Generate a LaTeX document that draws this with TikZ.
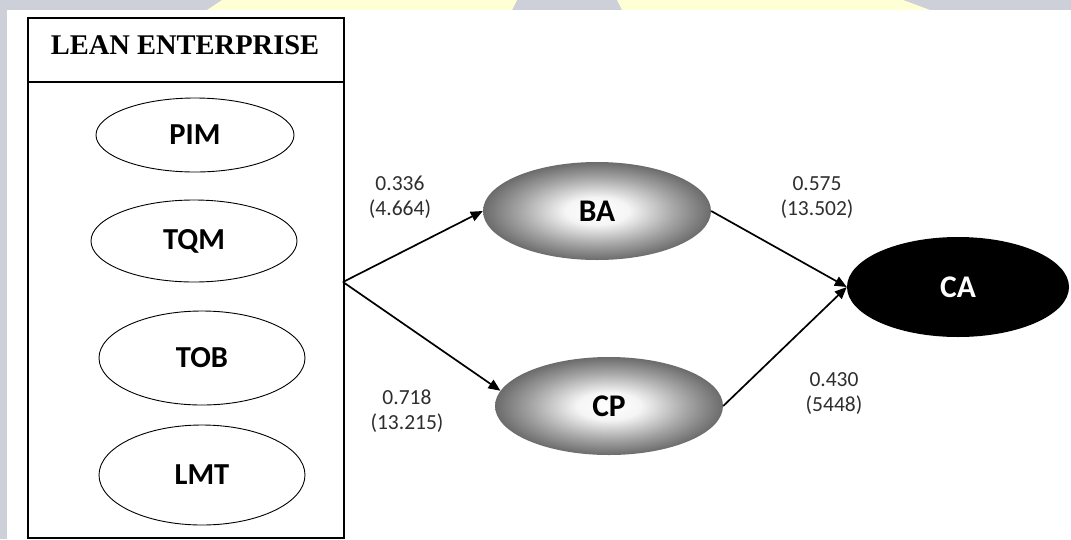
\documentclass[tikz,border=0pt]{standalone}
\usepackage{fontspec}
\setmainfont{Carlito}
\newfontfamily\titlefont{Liberation Serif}
\usetikzlibrary{shapes.geometric,arrows.meta}

\definecolor{pagegray}{HTML}{CDD0D8}
\definecolor{markyellow}{HTML}{FFFFD6}
\definecolor{numgray}{HTML}{2E2E2E}

% soft grey ball: wide light centre, darker rim
\pgfdeclareradialshading{softball}{\pgfpoint{0bp}{0bp}}{%
  color(0bp)=(white); color(7bp)=(white!96!black); color(17bp)=(black!35);
  color(25bp)=(black!58); color(50bp)=(black!58)}

\begin{document}
\begin{tikzpicture}[x=1pt,y=-1pt,
  frame/.style={draw=black,line width=2pt,inner sep=0pt,anchor=north west},
  construct/.style={ellipse,draw=black,line width=0.9pt,fill=white,inner sep=0pt,
    font=\fontsize{30.5}{30.5}\selectfont\bfseries},
  latent/.style={ellipse,inner sep=0pt,minimum width=228pt,minimum height=98pt,
    shading=softball,font=\fontsize{31.5}{31.5}\selectfont\bfseries},
  outcome/.style={ellipse,inner sep=0pt,fill=black,text=white,
    font=\fontsize{31.5}{31.5}\selectfont\bfseries},
  coef/.style={align=center,text=numgray,font=\fontsize{21.5}{25}\selectfont},
  link/.style={line width=1.7pt,-{Triangle[length=12pt,width=10pt]}}
]
% page background with the grey margin and pale watermark strip
\fill[white] (0,0) rectangle (1071,539);
\fill[pagegray] (0,0) rectangle (1071,10);
\fill[pagegray] (0,0) rectangle (7,539);
\fill[markyellow] (207,10) -- (222,0) -- (517,0) -- (512,10) -- cycle;
\fill[markyellow] (622,10) -- (617,0) -- (903,0) -- (930,10) -- cycle;
\useasboundingbox (0,0) rectangle (1071,539);

% lean enterprise block
\node[frame,minimum width=316pt,minimum height=64pt] (titlebox) at (27,17) {};
\node[font=\titlefont\fontsize{28.5}{28.5}\selectfont\bfseries] (title) at (185,45) {LEAN ENTERPRISE};
\node[frame,minimum width=316pt,minimum height=456pt] (lean) at (27,81) {};

\node[construct,minimum width=198pt,minimum height=74pt] (pim) at (195,135) {PIM};
\node[construct,minimum width=206pt,minimum height=82pt] (tqm) at (194,241) {TQM};
\node[construct,minimum width=206pt,minimum height=94pt] (tob) at (202,358) {TOB};
\node[construct,minimum width=206pt,minimum height=100pt] (lmt) at (202,475) {LMT};

% mediators and outcome
\node[latent] (ba) at (597,211) {BA};
\node[latent] (cp) at (609,406) {CP};
\node[outcome,minimum width=222pt,minimum height=100pt] (ca) at (958,287) {CA};

\coordinate (src) at (343,282);

\draw[link] (src) -- (ba.west);
\draw[link] (src) -- (cp.172);
\draw[link] (ba.east) -- (ca.west);
\draw[link] (cp.east) -- (ca.west);

% path coefficients (t-values)
\node[coef] (c1) at (400,197) {0.336\\(4.664)};
\node[coef] (c2) at (407,411) {0.718\\(13.215)};
\node[coef] (c3) at (817,198) {0.575\\(13.502)};
\node[coef] (c4) at (834,394) {0.430\\(5448)};
\end{tikzpicture}
\end{document}
